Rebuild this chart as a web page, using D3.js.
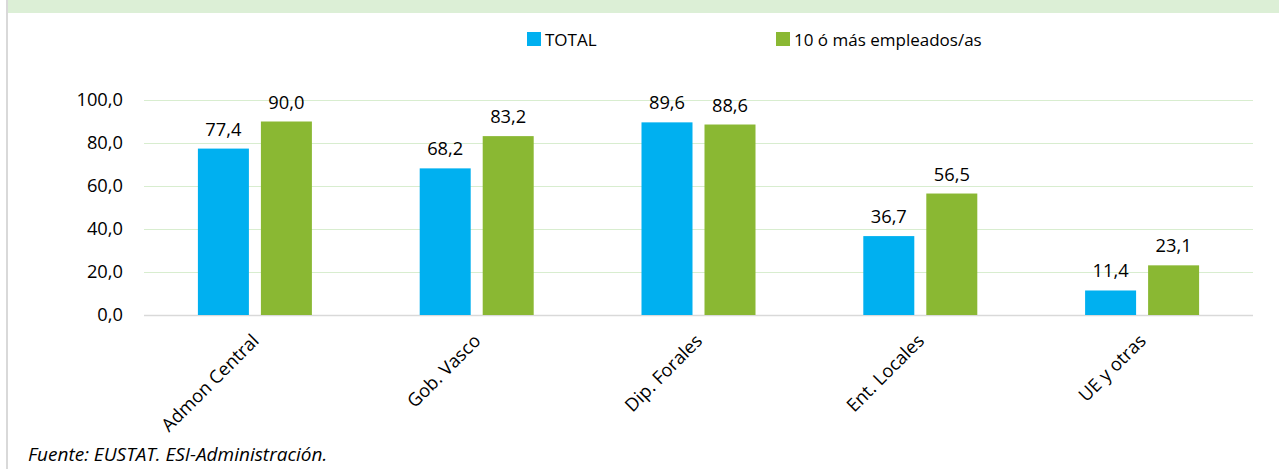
<!DOCTYPE html>
<html>
<head>
<meta charset="utf-8">
<script src="https://cdn.jsdelivr.net/npm/d3@7"></script>
<style>
  html, body { margin: 0; padding: 0; background: #fff; }
  svg { display: block; }
  text { font-family: "Open Sans", sans-serif; fill: #000; }
</style>
</head>
<body>
<svg id="chart" width="1279" height="469"></svg>
<script>
const categories = ["Admon Central", "Gob. Vasco", "Dip. Forales", "Ent. Locales", "UE y otras"];
const seriesNames = ["TOTAL", "10 ó más empleados/as"];
const totalValues = [77.4, 68.2, 89.6, 36.7, 11.4];
const largeValues = [90.0, 83.2, 88.6, 56.5, 23.1];
const yTicks = [0, 20, 40, 60, 80, 100];
const sourceNote = "Fuente: EUSTAT. ESI-Administración.";

const colors = ["#00B0F0", "#8AB833"];
const FONT = "'Open Sans', sans-serif";
const FS = "18.3px";
const W = 1279, H = 469;
const svg = d3.select("#chart");
const fmt = v => d3.format(".1f")(v).replace(".", ",");

// top band and left border
svg.append("rect").attr("x", 8).attr("y", 0).attr("width", W - 8).attr("height", 13).attr("fill", "#DCEFD6");
svg.append("rect").attr("x", 6).attr("y", 0).attr("width", 2).attr("height", H).attr("fill", "#D9D9D9");

const plot = { left: 144, right: 1253, top: 100, bottom: 315 };
const y = d3.scaleLinear().domain([0, 100]).range([plot.bottom, plot.top]);
const x0 = d3.scaleBand().domain(categories).range([plot.left, plot.right]).padding(0);
const x1 = d3.scaleBand().domain(seriesNames).range([0, 114]).paddingInner(0.1905).paddingOuter(0);

// gridlines
const yAxis = d3.axisLeft(y).tickValues(yTicks).tickSize(-(plot.right - plot.left)).tickFormat(fmt).tickPadding(21);
const gy = svg.append("g").attr("transform", `translate(${plot.left},0)`).call(yAxis);
gy.select(".domain").remove();
gy.selectAll(".tick line").attr("stroke", d => d === 0 ? "#D9D9D9" : "#D8EDCF").attr("stroke-width", d => d === 0 ? 1.5 : 1.2);
gy.selectAll(".tick text").attr("font-size", FS).attr("fill", "#000").attr("font-family", FONT);

const data = categories.map((c, i) => ({ cat: c, vals: [totalValues[i], largeValues[i]] }));

const groups = svg.append("g").selectAll("g").data(data).join("g")
  .attr("transform", d => `translate(${x0(d.cat) + x0.bandwidth() / 2 - 57},0)`);

groups.selectAll("rect").data(d => d.vals.map((v, j) => ({ v, s: seriesNames[j], j }))).join("rect")
  .attr("x", d => x1(d.s))
  .attr("y", d => y(d.v))
  .attr("width", x1.bandwidth())
  .attr("height", d => y(0) - y(d.v))
  .attr("fill", d => colors[d.j]);

groups.selectAll("text.lbl").data(d => d.vals.map((v, j) => ({ v, s: seriesNames[j], j }))).join("text")
  .attr("class", "lbl")
  .attr("x", d => x1(d.s) + x1.bandwidth() / 2)
  .attr("y", d => y(d.v) - 13)
  .attr("text-anchor", "middle")
  .attr("font-size", FS)
  .text(d => fmt(d.v));

// category labels
const xAxis = d3.axisBottom(x0).tickSize(0).tickPadding(0);
const gx = svg.append("g").attr("transform", `translate(0,${plot.bottom})`).call(xAxis);
gx.select(".domain").remove();
gx.selectAll(".tick text")
  .attr("font-size", FS)
  .attr("fill", "#000")
  .attr("font-family", FONT)
  .attr("text-anchor", "end")
  .attr("dy", "0")
  .attr("y", 0)
  .attr("transform", "translate(5,27) rotate(-45)");

// legend
const legendX = [527, 776];
const leg = svg.append("g").selectAll("g").data(seriesNames).join("g")
  .attr("transform", (d, i) => `translate(${legendX[i]},32)`);
leg.append("rect").attr("width", 14).attr("height", 14).attr("fill", (d, i) => colors[i]);
leg.append("text").attr("x", 18).attr("y", 14).attr("font-size", "17px").text(d => d);

// source note
svg.append("text").attr("x", 28).attr("y", 461).attr("font-size", "19px").attr("font-style", "italic").text(sourceNote);
</script>
</body>
</html>
